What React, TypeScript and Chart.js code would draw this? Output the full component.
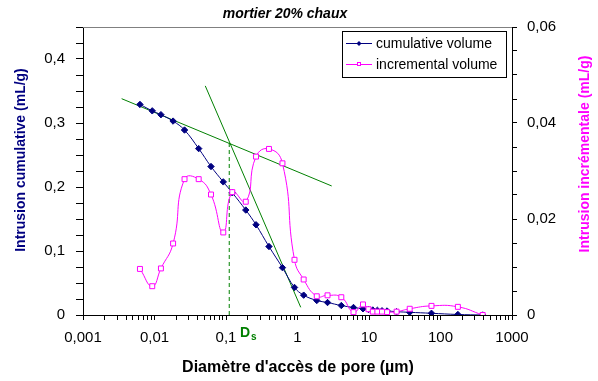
import React, { useEffect, useRef } from 'react';
import { Chart, registerables } from 'chart.js';

Chart.register(...registerables);

// Pore access diameter (µm), shared by both series
const poreDiameters = [
  0.00626, 0.0093, 0.0123, 0.0182, 0.0263, 0.0415, 0.0617, 0.0916, 0.1225, 0.189,
  0.263, 0.399, 0.616, 0.908, 1.22, 1.86, 2.63, 4.1, 6.07, 8.24,
  9.84, 11.3, 13.1, 15.2, 17.9, 24.3, 37.1, 74.8, 175, 389,
];
// Cumulative intrusion (mL/g), left axis
const cumulativeVolume = [
  0.329, 0.319, 0.313, 0.303, 0.289, 0.26, 0.232, 0.208, 0.191, 0.164,
  0.141, 0.107, 0.074, 0.043, 0.031, 0.0227, 0.0195, 0.0148, 0.0117, 0.0097,
  0.0086, 0.0078, 0.0073, 0.0066, 0.0063, 0.0052, 0.0042, 0.0027, 0.0008, 0.0,
];
// Incremental intrusion (mL/g), right axis
const incrementalVolume = [
  0.0096, 0.006, 0.0097, 0.0149, 0.0283, 0.0283, 0.0251, 0.0172, 0.0256, 0.0236,
  0.033, 0.0346, 0.0316, 0.0115, 0.0074, 0.0039, 0.0041, 0.0037, 0.0006, 0.0022,
  0.0012, 0.0007, 0.0007, 0.0007, 0.0006, 0.0007, 0.0013, 0.0019, 0.0017, 0.0,
];
// Construction lines (x in µm, y on left axis)
const tangentShallow = [
  { x: 0.00347, y: 0.338 },
  { x: 3.01, y: 0.2016 },
];
const tangentSteep = [
  { x: 0.0513, y: 0.358 },
  { x: 1.11, y: 0.012 },
];
const dsMarker = [
  { x: 0.111, y: 0 },
  { x: 0.111, y: 0.269 },
];

const xTickLabels = ['0,001', '0,01', '0,1', '1', '10', '100', '1000'];
const leftTickLabels = ['0', '0,1', '0,2', '0,3', '0,4'];
const rightTickLabels = ['0', '0,02', '0,04', '0,06'];

const chartTitle = 'mortier 20% chaux';
const xTitle = "Diamètre d'accès de pore (µm)";
const leftTitle = 'Intrusion cumulative (mL/g)';
const rightTitle = 'Intrusion incrémentale (mL/g)';
const legendLabels = ['cumulative volume', 'incremental volume'];

const FONT = '"Liberation Sans", Arial, sans-serif';
const NAVY = '#000080';
const MAGENTA = '#FF00FF';
const GREEN = '#008000';

const decorPlugin = {
  id: 'decor',
  afterDraw(chart: any) {
    const ctx = chart.ctx as CanvasRenderingContext2D;
    const ca = chart.chartArea;
    ctx.save();
    // top border of plot area
    ctx.strokeStyle = '#808080';
    ctx.lineWidth = 1;
    ctx.beginPath();
    ctx.moveTo(ca.left, Math.round(ca.top) + 0.5);
    ctx.lineTo(ca.right, Math.round(ca.top) + 0.5);
    ctx.stroke();

    // title
    ctx.fillStyle = '#000';
    ctx.font = `italic bold 14px ${FONT}`;
    ctx.textAlign = 'center';
    ctx.textBaseline = 'middle';
    ctx.fillText(chartTitle, 285, 14);

    // x title
    ctx.font = `bold 16px ${FONT}`;
    ctx.fillText(xTitle, 298, 368);

    // left title
    ctx.save();
    ctx.translate(21, 160);
    ctx.rotate(-Math.PI / 2);
    ctx.fillStyle = NAVY;
    ctx.font = `bold 14px ${FONT}`;
    ctx.fillText(leftTitle, 0, 0);
    ctx.restore();

    // right title
    ctx.save();
    ctx.translate(585, 154);
    ctx.rotate(-Math.PI / 2);
    ctx.fillStyle = MAGENTA;
    ctx.font = `bold 14px ${FONT}`;
    ctx.fillText(rightTitle, 0, 0);
    ctx.restore();

    // D_s label
    ctx.fillStyle = GREEN;
    ctx.textAlign = 'left';
    ctx.textBaseline = 'alphabetic';
    ctx.font = `bold 14px ${FONT}`;
    ctx.fillText('D', 240, 337);
    ctx.font = `bold 10px ${FONT}`;
    ctx.fillText('s', 251, 340);

    // legend
    const lx = 342.5, ly = 31.5, lw = 164, lh = 46;
    ctx.fillStyle = '#fff';
    ctx.fillRect(lx, ly, lw, lh);
    ctx.strokeStyle = '#000';
    ctx.lineWidth = 1;
    ctx.strokeRect(lx, ly, lw, lh);
    const rows = [
      { y: 43, color: NAVY, label: legendLabels[0], marker: 'diamond' },
      { y: 64, color: MAGENTA, label: legendLabels[1], marker: 'square' },
    ];
    rows.forEach((r) => {
      ctx.strokeStyle = r.color;
      ctx.lineWidth = 1;
      ctx.beginPath();
      ctx.moveTo(346, r.y + 0.5);
      ctx.lineTo(372, r.y + 0.5);
      ctx.stroke();
      if (r.marker === 'diamond') {
        ctx.fillStyle = r.color;
        ctx.beginPath();
        ctx.moveTo(359, r.y - 2);
        ctx.lineTo(361.5, r.y + 0.5);
        ctx.lineTo(359, r.y + 3);
        ctx.lineTo(356.5, r.y + 0.5);
        ctx.closePath();
        ctx.fill();
      } else {
        ctx.fillStyle = '#fff';
        ctx.fillRect(357, r.y - 1.5, 4, 4);
        ctx.strokeRect(357.5, r.y - 1.5, 3, 3);
      }
      ctx.fillStyle = '#000';
      ctx.font = `14px ${FONT}`;
      ctx.textAlign = 'left';
      ctx.textBaseline = 'middle';
      ctx.fillText(r.label, 376, r.y + 1);
    });
    ctx.restore();
  },
};

function buildLogTicks() {
  const ticks: { value: number }[] = [];
  for (let e = -3; e <= 2; e++) {
    for (let m = 1; m <= 9; m++) {
      ticks.push({ value: Number((m * Math.pow(10, e)).toPrecision(6)) });
    }
  }
  ticks.push({ value: 1000 });
  return ticks;
}

export default function App() {
  const canvasRef = useRef<HTMLCanvasElement | null>(null);

  useEffect(() => {
    if (!canvasRef.current) return;
    const cumData = poreDiameters.map((x, i) => ({ x, y: cumulativeVolume[i] }));
    const incData = poreDiameters.map((x, i) => ({ x, y: incrementalVolume[i] }));

    const chart = new Chart(canvasRef.current, {
      type: 'line',
      data: {
        datasets: [
          {
            label: legendLabels[1],
            data: incData,
            yAxisID: 'y1',
            borderColor: MAGENTA,
            borderWidth: 1,
            backgroundColor: '#fff',
            pointStyle: 'rect',
            pointRadius: 3.5,
            pointBorderColor: MAGENTA,
            pointBackgroundColor: '#fff',
            pointBorderWidth: 1,
            tension: 0.5,
            order: 1,
          },
          {
            label: legendLabels[0],
            data: cumData,
            yAxisID: 'y',
            borderColor: NAVY,
            borderWidth: 1,
            backgroundColor: NAVY,
            pointStyle: 'rectRot',
            pointRadius: 3.2,
            pointBorderColor: NAVY,
            pointBackgroundColor: NAVY,
            tension: 0.4,
            order: 2,
          },
          {
            label: 'tangent 1',
            data: tangentShallow,
            yAxisID: 'y',
            borderColor: GREEN,
            borderWidth: 1,
            pointRadius: 0,
            tension: 0,
            order: 3,
          },
          {
            label: 'tangent 2',
            data: tangentSteep,
            yAxisID: 'y',
            borderColor: GREEN,
            borderWidth: 1,
            pointRadius: 0,
            tension: 0,
            order: 3,
          },
          {
            label: 'Ds',
            data: dsMarker,
            yAxisID: 'y',
            borderColor: GREEN,
            borderWidth: 1,
            borderDash: [4, 3],
            pointRadius: 0,
            tension: 0,
            order: 3,
          },
        ],
      },
      options: {
        responsive: false,
        animation: false,
        events: [],
        layout: { padding: { top: 27, left: 0, right: 0, bottom: 0 } },
        plugins: {
          legend: { display: false },
          title: { display: false },
          tooltip: { enabled: false },
        },
        scales: {
          x: {
            type: 'logarithmic',
            position: 'bottom',
            min: 0.001,
            max: 1000,
            afterBuildTicks: (s: any) => {
              s.ticks = buildLogTicks();
            },
            afterFit: (s: any) => {
              s.height = 66;
            },
            grid: { drawOnChartArea: false, drawTicks: true, tickLength: 5, color: '#000' },
            border: { color: '#000', width: 1 },
            ticks: {
              autoSkip: false,
              maxRotation: 0,
              minRotation: 0,
              padding: 9,
              color: '#000',
              font: { family: FONT, size: 15 },
              callback: (v: any) => {
                const l = Math.log10(Number(v));
                const r = Math.round(l);
                return Math.abs(l - r) < 1e-6 ? xTickLabels[r + 3] : '';
              },
            },
          },
          y: {
            type: 'linear',
            position: 'left',
            min: 0,
            max: 0.45,
            afterFit: (s: any) => {
              s.width = 83;
            },
            grid: { drawOnChartArea: false, drawTicks: true, tickLength: 7, color: '#000' },
            border: { color: '#000', width: 1 },
            ticks: {
              stepSize: 0.025,
              autoSkip: false,
              padding: 11,
              color: '#000',
              font: { family: FONT, size: 15 },
              callback: (v: any) => {
                const k = Number(v) * 10;
                const r = Math.round(k);
                return Math.abs(k - r) < 1e-6 ? leftTickLabels[r] : '';
              },
            },
          },
          y1: {
            type: 'linear',
            position: 'right',
            min: 0,
            max: 0.06,
            afterFit: (s: any) => {
              s.width = 86;
            },
            grid: { drawOnChartArea: false, drawTicks: true, tickLength: 5, color: '#000' },
            border: { color: '#000', width: 1 },
            ticks: {
              stepSize: 0.005,
              autoSkip: false,
              padding: 10,
              color: '#000',
              font: { family: FONT, size: 15 },
              callback: (v: any) => {
                const k = Number(v) / 0.02;
                const r = Math.round(k);
                return Math.abs(k - r) < 1e-6 ? rightTickLabels[r] : '';
              },
            },
          },
        },
      },
      plugins: [decorPlugin],
    } as any);

    return () => chart.destroy();
  }, []);

  return (
    <div style={{ position: 'absolute', left: 0, top: 0, width: 598, height: 381, background: '#fff' }}>
      <canvas ref={canvasRef} width={598} height={381} style={{ display: 'block' }} />
    </div>
  );
}
